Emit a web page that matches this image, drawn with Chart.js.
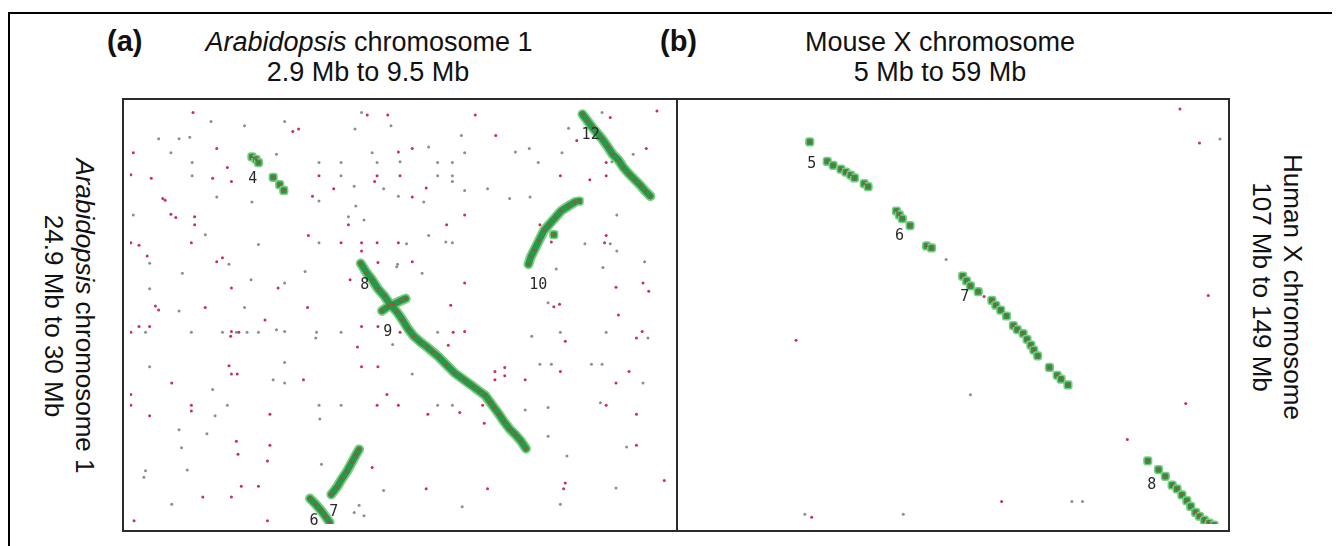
<!DOCTYPE html>
<html>
<head>
<meta charset="utf-8">
<script src="https://cdn.jsdelivr.net/npm/chart.js@4.4.0/dist/chart.umd.min.js"></script>
<style>
  body { margin: 0; width: 1338px; height: 546px; background: #fff; position: relative; overflow: hidden;
         font-family: Arial, "Liberation Sans", Helvetica, sans-serif; color: #111; }
  .frame { position: absolute; left: 8px; top: 12px; width: 1322px; height: 600px;
           border-top: 2px solid #000; border-left: 2px solid #000; }
  .t { position: absolute; font-size: 27px; line-height: 30px; white-space: nowrap; transform: translateX(-50%); text-align: center; }
  .tag { position: absolute; font-size: 29px; font-weight: bold; line-height: 30px; }
  .rot { position: absolute; font-size: 26px; line-height: 31px; white-space: nowrap; text-align: center;
         transform: translate(-50%, -50%) rotate(90deg); }
  .panel { position: absolute; border: 2px solid #2b2b2b; background: #fff; }
  .panel canvas { display: block; }
</style>
</head>
<body>
<div class="frame"></div>

<div class="tag" style="left:107px; top:26px;">(a)</div>
<div class="t" style="left:369px; top:27px;"><i>Arabidopsis</i> chromosome 1</div>
<div class="t" style="left:368px; top:57px;">2.9 Mb to 9.5 Mb</div>

<div class="tag" style="left:660px; top:26px;">(b)</div>
<div class="t" style="left:940px; top:27px;">Mouse X chromosome</div>
<div class="t" style="left:940px; top:57px;">5 Mb to 59 Mb</div>

<div class="rot" style="left:69px; top:316px;"><i>Arabidopsis</i> chromosome 1<br>24.9 Mb to 30 Mb</div>
<div class="rot" style="left:1277px; top:287px;">Human X chromosome<br>107 Mb to 149 Mb</div>

<div class="panel" style="left:122px; top:98px;"><canvas id="chartA" width="552" height="430"></canvas></div>
<div class="panel" style="left:676px; top:98px;"><canvas id="chartB" width="550" height="430"></canvas></div>

<script>
// panel (a): Arabidopsis chr1 2.9-9.5 Mb (x) vs 24.9-30 Mb (y), values in Mb
const rangeXA = [2.9, 9.5];
const rangeYA = [24.9, 30];

const seg4A = [[4.39,25.52],[4.44,25.55],[4.47,25.59],[4.65,25.77],[4.73,25.86],[4.78,25.93]];
const seg89A = [[5.72,26.82],[5.79,26.93],[5.86,27.02],[5.93,27.13],[6.01,27.22],[6.08,27.32],[6.16,27.41],
  [6.23,27.51],[6.30,27.62],[6.37,27.71],[6.45,27.78],[6.53,27.84],[6.60,27.90],[6.67,27.96],[6.77,28.06],
  [6.87,28.16],[6.98,28.24],[7.09,28.32],[7.17,28.38],[7.24,28.43],[7.30,28.51],[7.35,28.58],[7.41,28.66],
  [7.47,28.75],[7.54,28.84],[7.61,28.91],[7.68,28.99],[7.74,29.08]];
const crossA = [[5.98,27.40],[6.05,27.35],[6.12,27.32],[6.20,27.28],[6.27,27.25]];
const seg10A = [[7.77,26.83],[7.80,26.74],[7.84,26.66],[7.90,26.54],[7.96,26.42],[8.02,26.35],[8.10,26.26],
  [8.17,26.18],[8.26,26.12],[8.34,26.07]];
const seg10xA = [[8.08,26.47],[8.39,26.06]];
const seg12A = [[8.43,25.00],[8.49,25.08],[8.55,25.16],[8.61,25.23],[8.67,25.30],[8.74,25.40],[8.80,25.49],
  [8.87,25.56],[8.93,25.65],[9.00,25.73],[9.07,25.80],[9.14,25.87],[9.20,25.94],[9.26,26.00]];
const seg7A = [[5.36,29.64],[5.43,29.55],[5.49,29.45],[5.55,29.36],[5.61,29.25],[5.66,29.16],[5.70,29.09]];
const seg6A = [[5.10,29.69],[5.17,29.76],[5.23,29.83],[5.29,29.91],[5.34,29.98]];

const labelsA = ['4', '8', '9', '10', '12', '6', '7'];
const labelXA = [4.40, 5.77, 6.05, 7.89, 8.53, 5.15, 5.39];
const labelYA = [25.79, 27.09, 27.66, 27.09, 25.26, 29.96, 29.86];

const redA = [[3.67,24.98],[4.89,25.21],[4.96,25.18],[5.80,25.01],[6.05,25.01],[2.94,25.47],[3.96,25.42],
  [4.09,25.65],[6.18,25.46],[2.91,25.74],[3.16,25.78],[3.91,25.78],[4.14,25.82],[5.21,25.75],[5.92,25.75],
  [5.89,25.82],[5.39,25.91],[3.30,26.03],[3.33,26.05],[5.13,26.00],[3.40,26.22],[3.46,26.26],[3.69,26.25],
  [3.69,26.35],[5.57,26.35],[5.08,26.48],[2.91,26.57],[3.01,26.60],[3.65,26.57],[5.48,26.57],[5.73,26.57],
  [5.92,26.57],[6.18,26.57],[5.73,26.67],[3.11,26.73],[3.96,26.80],[4.03,26.75],[5.93,26.81],[5.59,27.02],
  [4.14,27.12],[4.71,27.12],[3.21,27.34],[3.25,27.39],[3.82,27.36],[5.07,27.36],[4.55,27.51],[3.01,27.59],
  [3.14,27.59],[2.91,27.66],[4.13,27.71],[4.14,27.65],[4.23,27.66],[5.73,27.59],[5.93,27.59],[5.68,27.84],
  [4.11,28.07],[4.14,28.17],[4.21,28.17],[5.73,28.08],[5.93,28.08],[5.02,28.24],[3.41,28.28],[2.91,28.42],
  [6.04,28.42],[2.91,28.55],[3.65,28.55],[3.65,28.62],[5.92,28.55],[3.14,28.68],[4.61,28.66],[4.20,28.99],
  [4.61,29.04],[4.22,29.15],[4.58,29.23],[5.86,29.31],[4.26,29.54],[4.47,29.54],[3.79,29.67],[4.14,29.67],
  [2.95,29.96],[4.58,29.96],[7.12,25.01],[7.37,25.26],[6.35,25.42],[8.36,25.32],[8.77,25.04],[9.34,24.96],
  [9.21,25.42],[8.72,25.59],[6.20,25.75],[6.52,25.90],[8.16,25.75],[8.52,25.80],[8.72,25.75],[6.35,26.01],
  [6.99,26.23],[6.77,26.35],[7.91,26.35],[8.05,26.56],[8.72,26.48],[8.70,26.57],[6.35,26.80],[6.99,27.06],
  [9.17,27.06],[9.24,27.16],[8.84,27.11],[6.82,27.33],[8.08,27.35],[8.15,27.32],[8.87,27.45],[6.20,27.66],
  [6.85,27.66],[6.99,27.65],[6.79,27.82],[8.22,27.77],[9.09,27.73],[9.16,27.65],[7.36,28.14],[7.48,28.09],
  [7.36,28.24],[7.48,28.19],[7.73,28.24],[8.16,28.14],[9.00,28.14],[8.84,28.28],[6.18,28.55],[6.93,28.64],
  [6.54,28.66],[7.23,28.77],[7.21,28.55],[8.72,28.55],[9.09,28.66],[9.09,29.04],[6.52,29.57],[7.27,29.57],
  [8.22,29.50],[8.20,29.57],[9.43,29.47]];

const greyA = [[3.89,25.09],[4.30,25.14],[4.79,25.09],[5.73,24.98],[6.09,25.14],[5.65,25.18],[3.25,25.30],
  [3.50,25.30],[3.63,25.28],[3.40,25.47],[4.69,25.49],[3.66,25.59],[5.21,25.59],[5.48,25.59],[5.86,25.47],
  [5.92,25.59],[3.66,25.75],[5.48,25.75],[5.64,25.88],[6.00,25.91],[3.96,26.01],[5.21,26.06],[4.39,26.07],
  [5.66,26.12],[6.18,26.00],[2.94,26.23],[5.57,26.25],[5.76,26.29],[3.82,26.47],[4.47,26.59],[5.21,26.57],
  [3.14,26.82],[4.11,26.83],[3.54,26.94],[5.04,26.92],[6.16,26.86],[4.38,27.02],[4.79,27.06],[3.14,27.13],
  [4.30,27.36],[3.50,27.40],[3.09,27.66],[3.65,27.66],[4.03,27.66],[4.20,27.66],[4.33,27.66],[4.47,27.66],
  [4.69,27.63],[4.79,27.65],[5.18,27.66],[5.17,27.73],[5.48,27.66],[6.11,27.81],[3.14,28.08],[4.79,28.03],
  [4.65,28.24],[4.79,28.28],[3.91,28.36],[4.09,28.55],[5.21,28.55],[5.48,28.55],[3.94,28.68],[5.22,28.72],
  [3.50,28.85],[3.84,28.90],[3.53,29.07],[5.24,29.27],[3.60,29.34],[3.09,29.35],[3.07,29.43],[6.00,29.59],
  [3.41,29.76],[5.70,29.77],[5.64,29.86],[5.76,29.90],[6.95,25.26],[6.55,25.40],[6.99,25.47],[7.61,25.46],
  [7.78,25.42],[8.18,25.47],[8.67,24.98],[8.26,25.17],[9.05,25.49],[8.79,25.58],[6.20,25.58],[6.66,25.59],
  [6.84,25.59],[7.89,25.59],[6.66,25.75],[6.84,25.75],[6.84,25.82],[6.99,25.93],[7.27,25.91],[6.49,26.07],
  [7.54,26.03],[7.79,26.01],[6.55,26.48],[6.28,26.58],[6.76,26.56],[6.84,26.57],[8.46,26.58],[8.77,26.58],
  [8.85,26.23],[8.85,26.67],[6.17,26.83],[6.47,26.94],[8.11,26.89],[8.68,26.87],[9.19,26.80],[8.01,27.30],
  [6.66,27.66],[7.81,27.71],[8.16,27.66],[8.72,27.66],[9.23,27.73],[6.35,28.17],[7.91,28.05],[8.05,28.05],
  [8.54,28.05],[8.67,28.05],[9.17,28.28],[6.66,28.55],[6.84,28.55],[7.73,28.61],[8.01,28.58],[8.65,28.52],
  [8.01,28.93],[8.24,29.17],[8.97,29.06],[8.84,29.56],[6.96,29.79],[8.16,29.76]];

// panel (b): mouse X 5-59 Mb (x) vs human X 107-149 Mb (y)
const rangeXB = [5, 59];
const rangeYB = [107, 149];

const seg5B = [[17.62,110.61],[19.38,112.57],[19.97,112.96],[20.75,113.35],[21.24,113.64],[21.73,113.94],
  [22.12,114.23],[23.09,114.81],[23.48,115.11]];
const seg6B = [[26.32,117.55],[26.61,117.94],[26.91,118.33],[27.69,119.01],[29.35,121.06],[29.84,121.26]];
const seg7B = [[32.97,124.09],[33.36,124.58],[33.75,125.07],[34.53,125.66],[35.90,126.54],[36.30,127.02],
  [36.79,127.51],[37.37,128.10],[38.06,129.07],[38.45,129.46],[39.04,129.86],[39.43,130.44],[39.82,131.03],
  [40.11,131.52],[40.50,132.10],[41.68,133.27],[42.46,134.06],[42.85,134.45],[43.54,135.03]];
const seg8B = [[51.55,142.65],[52.63,143.53],[53.31,144.21],[54.00,145.09],[54.49,145.48],[54.98,146.07],
  [55.47,146.65],[55.86,147.24],[56.35,147.83],[56.74,148.22],[57.23,148.61],[57.72,148.90],[58.20,149.10]];

const labelsB = ['5', '6', '7', '8'];
const labelXB = [17.82, 26.62, 33.17, 51.96];
const labelYB = [112.86, 120.09, 126.24, 145.09];

const redB = [[54.78,107.29],[56.74,110.71],[57.62,126.05],[55.36,136.89],[49.50,140.50],[35.12,126.15],
  [16.25,130.54],[17.81,148.32],[36.88,146.75]];
const greyB = [[58.79,110.32],[31.31,122.43],[33.75,136.01],[17.13,148.03],[27.01,148.03],[43.93,146.75],[45.00,146.75]];

const HALO = '#80cc80';
const GREEN = '#27984b';
const CORE = '#b3492f';

const toXY = pts => pts.map(p => ({ x: p[0], y: p[1] }));

function segmentSets(pts, line) {
  const data = toXY(pts);
  const sets = [];
  if (line) {
    sets.push({ data, showLine: true, borderColor: HALO, borderWidth: 10, pointRadius: 0,
      borderCapStyle: 'round', borderJoinStyle: 'round', order: 40 });
    sets.push({ data, showLine: true, borderColor: GREEN, borderWidth: 6.5, pointRadius: 0,
      borderCapStyle: 'round', borderJoinStyle: 'round', order: 30 });
  } else {
    sets.push({ data, showLine: false, pointStyle: 'rectRounded', pointRadius: 4.5,
      pointBackgroundColor: GREEN, pointBorderColor: HALO, pointBorderWidth: 1.5, order: 30 });
  }
  sets.push({ data, showLine: false, pointRadius: 1.3, pointBackgroundColor: CORE, pointBorderWidth: 0, order: 20 });
  return sets;
}

function noiseSet(pts, color) {
  return { data: toXY(pts), showLine: false, pointRadius: 1.5, pointBackgroundColor: color,
    pointBorderWidth: 0, order: 50 };
}

// segment numbers, drawn over the dots
const segLabels = {
  id: 'segLabels',
  afterDatasetsDraw(chart, args, opts) {
    const { ctx, scales: { x, y } } = chart;
    ctx.save();
    ctx.font = '15px "DejaVu Sans Mono", monospace';
    ctx.fillStyle = '#2a2a2a';
    ctx.textAlign = 'center';
    ctx.textBaseline = 'middle';
    opts.names.forEach((n, i) => {
      ctx.fillText(n, x.getPixelForValue(opts.xs[i]), y.getPixelForValue(opts.ys[i]));
    });
    ctx.restore();
  }
};

function makeChart(id, rx, ry, datasets, names, xs, ys) {
  return new Chart(document.getElementById(id), {
    type: 'scatter',
    data: { datasets },
    plugins: [segLabels],
    options: {
      responsive: false,
      animation: false,
      events: [],
      layout: { padding: 0 },
      elements: { line: { tension: 0 } },
      datasets: { scatter: { clip: 0 } },
      scales: {
        x: { type: 'linear', min: rx[0], max: rx[1], display: false },
        y: { type: 'linear', min: ry[0], max: ry[1], reverse: true, display: false }
      },
      plugins: {
        legend: { display: false },
        tooltip: { enabled: false },
        segLabels: { names, xs, ys }
      }
    }
  });
}

const setsA = [
  noiseSet(redA, '#c8305a'),
  noiseSet(greyA, '#8d8d98'),
  ...segmentSets(seg4A, false),
  ...segmentSets(seg89A, true),
  ...segmentSets(crossA, true),
  ...segmentSets(seg10A, true),
  ...segmentSets(seg10xA, false),
  ...segmentSets(seg12A, true),
  ...segmentSets(seg7A, true),
  ...segmentSets(seg6A, true)
];

const setsB = [
  noiseSet(redB, '#c8305a'),
  noiseSet(greyB, '#8d8d98'),
  ...segmentSets(seg5B, false),
  ...segmentSets(seg6B, false),
  ...segmentSets(seg7B, false),
  ...segmentSets(seg8B, false)
];

makeChart('chartA', rangeXA, rangeYA, setsA, labelsA, labelXA, labelYA);
makeChart('chartB', rangeXB, rangeYB, setsB, labelsB, labelXB, labelYB);
</script>
</body>
</html>
